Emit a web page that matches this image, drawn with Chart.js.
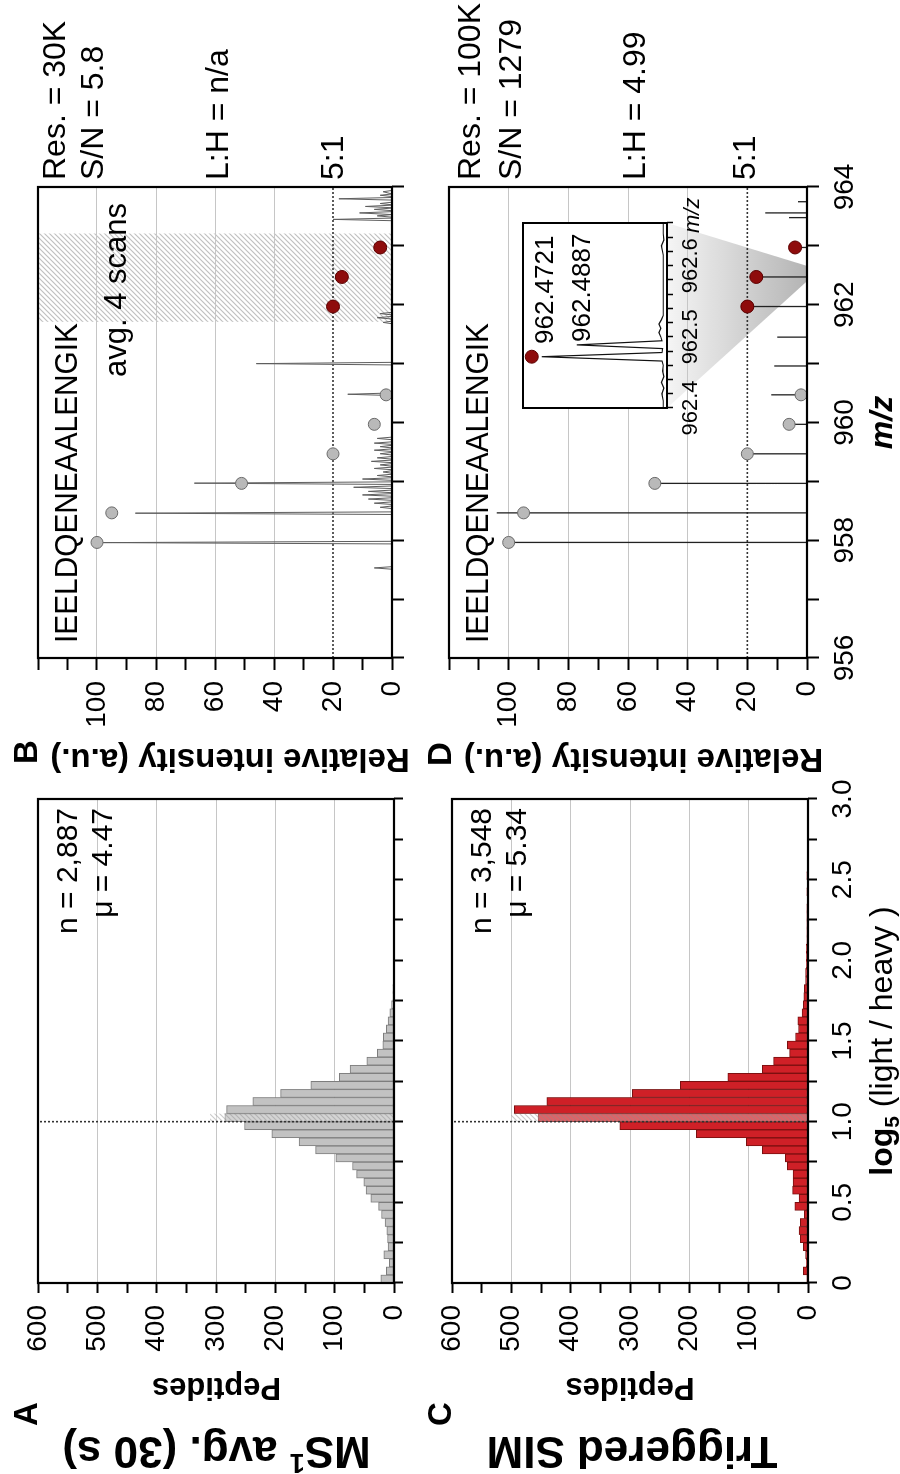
<!DOCTYPE html>
<html>
<head>
<meta charset="utf-8">
<title>SIM vs MS1 ratios</title>
<script src="https://cdn.jsdelivr.net/npm/chart.js@4.4.1/dist/chart.umd.min.js"></script>
<style>
  html, body { margin:0; padding:0; background:#fff; overflow:hidden; }
  body { width:900px; height:1474px; position:relative; }
  #fig { position:absolute; left:0; top:0; width:1474px; height:900px; background:#fff;
         transform-origin:0 0; transform: translate(0px, 1474px) rotate(-90deg); }
  #fig canvas { position:absolute; left:0; top:0; }
</style>
</head>
<body>
<div id="fig">
  <canvas id="chartA" width="1474" height="900"></canvas>
  <canvas id="chartC" width="1474" height="900"></canvas>
  <canvas id="chartB" width="1474" height="900"></canvas>
  <canvas id="chartD" width="1474" height="900"></canvas>
  <canvas id="chartInset" width="1474" height="900"></canvas>
</div>
<script>
// ---------------- DATA ----------------
const histBinStart = [0.00,0.05,0.10,0.15,0.20,0.25,0.30,0.35,0.40,0.45,0.50,0.55,0.60,0.65,0.70,0.75,0.80,0.85,0.90,0.95,
  1.00,1.05,1.10,1.15,1.20,1.25,1.30,1.35,1.40,1.45,1.50,1.55,1.60,1.65,1.70,1.75,1.80,1.85,1.90,1.95,
  2.00,2.05,2.10,2.15,2.20,2.25,2.30,2.35,2.40,2.45,2.50,2.55,2.60,2.65,2.70,2.75,2.80,2.85,2.90,2.95];
const ms1Peptides = [22,13,8,17,10,11,12,15,21,26,39,47,51,63,70,98,132,160,206,252,
  285,282,238,191,140,92,74,46,28,19,18,13,10,7,4,2,2,1,1,1,
  0,0,0,0,0,0,0,0,0,0,0,0,0,0,0,0,0,0,0,0];
const simPeptides = [2,8,3,4,8,13,15,13,6,22,15,26,25,25,35,38,77,104,188,317,
  455,495,440,296,215,135,77,58,31,35,21,16,17,10,8,7,6,4,4,3,
  3,3,2,2,2,2,2,1,2,1,2,1,1,1,1,1,1,1,1,1];

const logTickLabels = ['0','0.5','1.0','1.5','2.0','2.5','3.0'];
const peptideTickLabels = ['0','100','200','300','400','500','600'];
const mzTickLabels = ['956','958','960','962','964'];
const intensityTickLabels = ['0','20','40','60','80','100'];
const insetTickLabels = ['962.4','962.5','962.6'];

const ms1Stats = ['n = 2,887', 'μ = 4.47'];
const simStats = ['n = 3,548', 'μ = 5.34'];
const peptideName = 'IEELDQENEAALENGIK';
const ms1Info = ['Res. = 30K', 'S/N = 5.8', 'L:H = n/a', '5:1'];
const simInfo = ['Res. = 100K', 'S/N = 1279', 'L:H = 4.99', '5:1'];

// MS1 (30K) profile peaks: [m/z, relative intensity]
const ms1ProfilePeaks = [[957.53,6],[957.96,98],[958.46,87],[958.56,4],[958.63,6],[958.70,8],[958.77,10],[958.83,8],
  [958.90,13],[958.97,67],[959.04,10],[959.10,5],[959.16,3],[959.22,6],[959.28,4],[959.34,7],[959.40,5],
  [959.47,4],[959.53,6],[959.59,4],[959.65,6],[959.73,5],[960.48,15],[961.00,46],[961.70,3],[961.78,5],
  [961.85,4],[963.45,20],[963.51,5],[963.56,11],[963.62,6],[963.67,9],[963.72,4],[963.80,18],[963.86,4],[963.92,3]];
// SIM (100K) centroid sticks: [m/z, relative intensity]
const simSticks = [[957.963,100],[958.465,104],[958.966,51],[959.468,20],[959.969,6],[960.470,12],[960.96,11],
  [961.45,10],[961.970,20],[962.472,17],[962.973,4],[963.48,6],[963.56,14],[963.75,3]];
// theoretical isotope envelopes
const lightIsotopes = [[957.963,100],[958.465,95],[958.966,51],[959.468,20],[959.969,6],[960.470,2]];
const heavyIsotopes = [[961.970,20],[962.472,17],[962.973,4]];
// inset profile around 962.47
const insetProfile = [[962.400,3],[962.410,3],[962.420,4],[962.428,2.5],[962.436,4.5],[962.444,2.5],[962.452,3.5],
  [962.460,3],[962.466,4],[962.4721,100],[962.478,4],[962.4835,3.5],[962.4887,72],[962.4945,4],[962.500,5],
  [962.506,6.5],[962.512,5],[962.518,6.5],[962.524,4.5],[962.530,3],[962.545,3],[962.560,3],[962.580,3],
  [962.600,3],[962.615,3],[962.628,4.5],[962.636,2.5],[962.645,3],[962.660,3]];
const insetMarker = [[962.4721,108]];
const insetPeakLabels = ['962.4721','962.4887'];

// ---------------- HELPERS ----------------
const FAM = "'Liberation Sans', Arial, Helvetica, sans-serif";
const F = (size, weight = 'normal', style = 'normal') => `${style} ${weight} ${size}px ${FAM}`;
Chart.defaults.font.family = FAM;
Chart.defaults.color = '#000';

function range(a, b, s) {
  const n = Math.round((b - a) / s);
  return Array.from({length: n + 1}, (_, i) => +(a + i * s).toFixed(6));
}
function near(v, t) { return Math.abs(v - t) < 1e-6; }

function drawRich(ctx, parts, x, y, o = {}) {
  ctx.save();
  ctx.translate(x, y);
  if (o.rot) ctx.rotate(o.rot);
  let total = 0;
  parts.forEach(p => { ctx.font = p.font; p.w = ctx.measureText(p.t).width; total += p.w; });
  if (o.w) ctx.scale(o.w / total, 1);
  let cx = o.align === 'center' ? -total / 2 : (o.align === 'right' ? -total : 0);
  ctx.textBaseline = 'alphabetic'; ctx.textAlign = 'left'; ctx.fillStyle = o.color || '#000';
  parts.forEach(p => { ctx.font = p.font; ctx.fillText(p.t, cx, p.dy || 0); cx += p.w; });
  ctx.restore();
}
function drawText(ctx, t, x, y, font, o = {}) { drawRich(ctx, [{t, font}], x, y, o); }

function makeHatch(stripe, gap) {
  const c = document.createElement('canvas'); c.width = 5; c.height = 5;
  const g = c.getContext('2d');
  if (gap) { g.fillStyle = gap; g.fillRect(0, 0, 5, 5); }
  g.strokeStyle = stripe; g.lineWidth = 1.2;
  g.beginPath();
  g.moveTo(-1, 6); g.lineTo(6, -1);
  g.moveTo(-1, 1); g.lineTo(1, -1);
  g.moveTo(4, 6); g.lineTo(6, 4);
  g.stroke();
  return c;
}

const R90 = -Math.PI / 2;
const TICKFONT = {size: 28, family: FAM};
const YW = 110; // reserved width of the value axis box

function frame(ctx, a, lw) {
  ctx.save(); ctx.strokeStyle = '#000'; ctx.lineWidth = lw;
  ctx.strokeRect(a.left, a.top, a.right - a.left, a.bottom - a.top);
  ctx.restore();
}

// ---------------- HISTOGRAMS ----------------
function makeHist(id, counts, opts) {
  const plugin = {
    id: 'hist_' + id,
    afterDatasetsDraw(chart) {
      const {ctx, chartArea: a, scales: {x, y}} = chart;
      ctx.save();
      const x0 = x.getPixelForValue(1.0), x1 = x.getPixelForValue(1.05);
      const y0 = y.getPixelForValue(0), y1 = y.getPixelForValue(opts.hatchTo);
      ctx.fillStyle = ctx.createPattern(makeHatch('rgba(140,140,140,0.45)', 'rgba(255,255,255,0.3)'), 'repeat');
      ctx.fillRect(x0, y1, x1 - x0, y0 - y1);
      ctx.strokeStyle = '#333'; ctx.lineWidth = 1.6; ctx.setLineDash([2, 2]);
      ctx.beginPath(); ctx.moveTo(x0, a.bottom); ctx.lineTo(x0, a.top); ctx.stroke();
      ctx.restore();
      frame(ctx, a, 2.2);
      drawText(ctx, opts.stats[0], 666, a.top + 39, F(30), {align: 'right'});
      drawText(ctx, opts.stats[1], 666, a.top + 74, F(30), {align: 'right'});
      if (opts.global) opts.global(ctx);
    }
  };
  return new Chart(document.getElementById(id), {
    type: 'bar',
    data: { datasets: [{
      data: histBinStart.map((b, i) => ({x: b + 0.025, y: counts[i]})),
      backgroundColor: opts.fill, borderColor: opts.border, borderWidth: 1, borderSkipped: false,
      barPercentage: 1, categoryPercentage: 1, grouped: false
    }]},
    options: {
      responsive: false, animation: false, devicePixelRatio: 1, events: [],
      layout: { autoPadding: false, padding: {left: 191 - YW, right: 799, top: opts.top, bottom: 900 - opts.bottom - 60} },
      plugins: { legend: {display: false}, tooltip: {enabled: false} },
      scales: {
        x: {
          type: 'linear', min: 0, max: 3, offset: false,
          afterBuildTicks: s => { s.ticks = range(0, 3, 0.25).map(v => ({value: v})); },
          ticks: { autoSkip: false, maxRotation: 0, minRotation: 0, padding: 9, font: TICKFONT, color: '#000',
                   callback: v => { if (!opts.xLabels) return ''; const k = Math.round(v * 2); return near(v * 2, k) ? logTickLabels[k] : ''; } },
          grid: { offset: false, drawOnChartArea: false, drawTicks: true, tickLength: 9, tickColor: '#000', tickWidth: 2 },
          border: { display: false },
          afterFit: s => { s.height = 60; }
        },
        y: {
          type: 'linear', min: 0, max: 600,
          afterBuildTicks: s => { s.ticks = range(0, 600, 50).map(v => ({value: v})); },
          ticks: { autoSkip: false, padding: 12, font: TICKFONT, color: '#000',
                   callback: v => (v % 100 === 0 ? peptideTickLabels[v / 100] : '') },
          grid: { drawOnChartArea: true, lineWidth: 1,
                  color: c => (c.tick && c.tick.value % 100 === 0 && c.tick.value > 0 && c.tick.value < 600) ? '#c6c6c6' : 'rgba(0,0,0,0)',
                  drawTicks: true, tickLength: 10, tickColor: '#000', tickWidth: 2 },
          border: { display: false },
          afterFit: s => { s.width = YW; }
        }
      }
    },
    plugins: [plugin]
  });
}

function globalText(ctx) {
  drawRich(ctx, [{t: 'MS', font: F(44, 'bold')}, {t: '1', font: F(27, 'bold'), dy: -17}, {t: ' avg. (30 s)', font: F(44, 'bold')}],
           37, 216.5, {rot: R90, align: 'center'});
  drawText(ctx, 'Triggered SIM', 37, 632, F(44, 'bold'), {rot: R90, align: 'center'});
  drawText(ctx, 'A', 48, 37, F(33, 'bold'));
  drawText(ctx, 'B', 710, 37, F(33, 'bold'));
  drawText(ctx, 'C', 48, 451, F(33, 'bold'));
  drawText(ctx, 'D', 708, 451, F(33, 'bold'));
  drawText(ctx, 'Peptides', 96, 216.5, F(31, 'bold'), {rot: R90, align: 'center'});
  drawText(ctx, 'Peptides', 96, 630, F(31, 'bold'), {rot: R90, align: 'center'});
  drawText(ctx, 'Relative intensity (a.u.)', 725, 230, F(33, 'bold'), {rot: R90, align: 'center'});
  drawText(ctx, 'Relative intensity (a.u.)', 725, 643.5, F(33, 'bold'), {rot: R90, align: 'center'});
  drawRich(ctx, [{t: 'log', font: F(32, 'bold')}, {t: '5', font: F(21, 'bold'), dy: 7}, {t: ' (light / heavy )', font: F(32)}],
           433, 892, {align: 'center'});
  drawText(ctx, 'm/z', 1051.5, 892, F(32, 'bold', 'italic'), {align: 'center'});
}

makeHist('chartA', ms1Peptides, {top: 38, bottom: 394, fill: '#c2c2c2', border: '#7d7d7d', hatchTo: 310,
  stats: ms1Stats, xLabels: false, global: globalText});
makeHist('chartC', simPeptides, {top: 452, bottom: 808, fill: '#cf2027', border: '#7a1010', hatchTo: 500,
  stats: simStats, xLabels: true});

// ---------------- SPECTRA ----------------
const INSET = {l: 1066, r: 1251, t: 523, b: 667};

function makeSpectrum(id, opts) {
  const plugin = {
    id: 'spec_' + id,
    beforeDraw(chart) {
      const {ctx, chartArea: a, scales: {x, y}} = chart;
      ctx.save();
      if (opts.hatch) {
        const x0 = x.getPixelForValue(opts.hatch[0]), x1 = x.getPixelForValue(opts.hatch[1]);
        ctx.fillStyle = ctx.createPattern(makeHatch('rgba(150,150,150,0.6)', null), 'repeat');
        ctx.fillRect(x0, a.top, x1 - x0, a.bottom - a.top);
      }
      if (opts.callout) {
        const yb = y.getPixelForValue(0);
        const g = ctx.createLinearGradient(0, INSET.b, 0, yb);
        g.addColorStop(0, '#f5f5f5'); g.addColorStop(1, '#b4b4b4');
        ctx.fillStyle = g;
        ctx.beginPath();
        ctx.moveTo(INSET.l, INSET.b); ctx.lineTo(INSET.r, INSET.b);
        ctx.lineTo(x.getPixelForValue(opts.callout[1]), yb);
        ctx.lineTo(x.getPixelForValue(opts.callout[0]), yb);
        ctx.closePath(); ctx.fill();
      }
      ctx.restore();
    },
    beforeDatasetsDraw(chart) {
      const {ctx, chartArea: a, scales: {y}} = chart;
      const yy = y.getPixelForValue(20);
      ctx.save(); ctx.strokeStyle = '#333'; ctx.lineWidth = 1.6; ctx.setLineDash([2, 2]);
      ctx.beginPath(); ctx.moveTo(a.left, yy); ctx.lineTo(a.right, yy); ctx.stroke(); ctx.restore();
    },
    afterDraw(chart) {
      const {ctx, chartArea: a} = chart;
      frame(ctx, a, 2.2);
      drawText(ctx, peptideName, 831, a.top + 39, F(32), {w: 320});
      if (opts.avgLabel) drawText(ctx, opts.avgLabel, 1097, a.top + 88, F(31));
      const info = opts.info, ys = opts.infoY;
      for (let i = 0; i < info.length; i++) drawText(ctx, info[i], 1294, ys[i], F(32));
    }
  };
  const datasets = [
    { data: lightIsotopes.map(([x, y]) => ({x, y})), showLine: false, pointRadius: 6, pointHoverRadius: 6,
      backgroundColor: '#b9b9b9', borderColor: '#6a6a6a', pointBorderWidth: 1, order: 0 },
    { data: heavyIsotopes.map(([x, y]) => ({x, y})), showLine: false, pointRadius: 6.5, pointHoverRadius: 6.5,
      backgroundColor: '#8e0c0c', borderColor: '#5c0000', pointBorderWidth: 1, order: 0 },
    { data: opts.line, showLine: true, spanGaps: false, pointRadius: 0, borderColor: opts.lineColor,
      borderWidth: opts.lineWidth, tension: 0, order: 2, fill: false }
  ];
  return new Chart(document.getElementById(id), {
    type: 'scatter',
    data: { datasets },
    options: {
      responsive: false, animation: false, devicePixelRatio: 1, events: [],
      layout: { autoPadding: false, padding: {left: 816 - YW, right: 187, top: opts.top, bottom: 900 - opts.bottom - 60} },
      plugins: { legend: {display: false}, tooltip: {enabled: false} },
      scales: {
        x: {
          type: 'linear', min: 956, max: 964,
          afterBuildTicks: s => { s.ticks = range(956, 964, 1).map(v => ({value: v})); },
          ticks: { autoSkip: false, maxRotation: 0, minRotation: 0, padding: 9, font: TICKFONT, color: '#000',
                   callback: v => (opts.xLabels && (v - 956) % 2 === 0) ? mzTickLabels[(v - 956) / 2] : '' },
          grid: { drawOnChartArea: false, drawTicks: true, tickLength: 12, tickColor: '#000', tickWidth: 2 },
          border: { display: false },
          afterFit: s => { s.height = 60; }
        },
        y: {
          type: 'linear', min: 0, max: 120,
          afterBuildTicks: s => { s.ticks = range(0, 120, 10).map(v => ({value: v})); },
          ticks: { autoSkip: false, padding: 11, font: TICKFONT, color: '#000',
                   callback: v => (v % 20 === 0 && v <= 100) ? intensityTickLabels[v / 20] : '' },
          grid: { drawOnChartArea: true, lineWidth: 1,
                  color: c => (c.tick && [40, 60, 80, 100].includes(c.tick.value)) ? '#c6c6c6' : 'rgba(0,0,0,0)',
                  drawTicks: true, tickLength: 12, tickColor: '#000', tickWidth: 2 },
          border: { display: false },
          afterFit: s => { s.width = YW; }
        }
      }
    },
    plugins: [plugin]
  });
}

const HW = 0.022; // drawn half-width of a profile peak (style)
const ms1Line = [{x: 956, y: 0}];
ms1ProfilePeaks.forEach(([m, h]) => { ms1Line.push({x: m - HW, y: 0}, {x: m, y: h}, {x: m + HW, y: 0}); });
ms1Line.push({x: 964, y: 0});
const simLine = simSticks.flatMap(([m, h]) => [{x: m, y: 0}, {x: m, y: h}, {x: m, y: null}]);

makeSpectrum('chartB', {top: 38, bottom: 392, line: ms1Line, lineColor: '#5e5e5e', lineWidth: 1,
  hatch: [961.71, 963.21], avgLabel: 'avg. 4 scans', info: ms1Info, infoY: [65, 103, 228, 343], xLabels: false});
makeSpectrum('chartD', {top: 449, bottom: 807, line: simLine, lineColor: '#222', lineWidth: 1.3,
  callout: [962.4, 962.66], info: simInfo, infoY: [480, 521, 645, 755], xLabels: true});

// ---------------- INSET ----------------
new Chart(document.getElementById('chartInset'), {
  type: 'scatter',
  data: { datasets: [
    { data: insetMarker.map(([x, y]) => ({x, y})), showLine: false, pointRadius: 6.5,
      backgroundColor: '#8e0c0c', borderColor: '#5c0000', pointBorderWidth: 1, order: 0 },
    { data: insetProfile.map(([x, y]) => ({x, y})), showLine: true, pointRadius: 0, borderColor: '#111',
      borderWidth: 1.2, tension: 0, order: 1 }
  ]},
  options: {
    responsive: false, animation: false, devicePixelRatio: 1, events: [],
    layout: { autoPadding: false, padding: {left: INSET.l, right: 1474 - INSET.r, top: INSET.t, bottom: 900 - INSET.b - 40} },
    plugins: { legend: {display: false}, tooltip: {enabled: false} },
    scales: {
      x: {
        type: 'linear', min: 962.4, max: 962.66,
        afterBuildTicks: s => { s.ticks = range(962.4, 962.66, 0.02).map(v => ({value: v})); },
        ticks: { autoSkip: false, maxRotation: 0, minRotation: 0, padding: 5, font: {size: 22, family: FAM}, color: '#000',
                 callback: v => { const d = (v - 962.4) * 10, k = Math.round(d); return near(d, k) ? (insetTickLabels[k] || '') : ''; } },
        grid: { drawOnChartArea: false, drawTicks: true, tickLength: 6, tickColor: '#000', tickWidth: 1.5 },
        border: { display: false },
        afterFit: s => { s.height = 40; }
      },
      y: { display: false, min: 0, max: 115 }
    }
  },
  plugins: [{
    id: 'insetDeco',
    beforeDraw(chart) {
      const {ctx, chartArea: a} = chart;
      ctx.save(); ctx.fillStyle = '#fff'; ctx.fillRect(a.left, a.top, a.right - a.left, a.bottom - a.top); ctx.restore();
    },
    afterDraw(chart) {
      const {ctx, chartArea: a} = chart;
      frame(ctx, a, 2);
      drawText(ctx, insetPeakLabels[0], 1130, 553, F(26));
      drawText(ctx, insetPeakLabels[1], 1132, 590, F(26));
      drawText(ctx, 'm/z', 1241, 699, F(22, 'normal', 'italic'));
    }
  }]
});
</script>
</body>
</html>
